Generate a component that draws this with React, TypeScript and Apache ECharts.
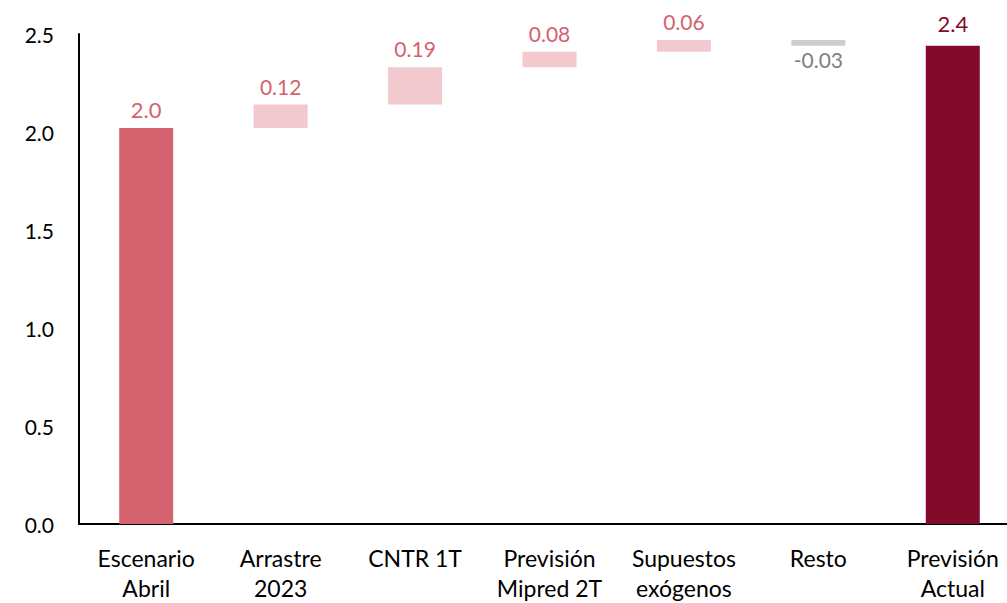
import React, { useEffect, useRef } from "react";
import * as echarts from "echarts";

const categories = [
  "Escenario\nAbril",
  "Arrastre\n2023",
  "CNTR 1T",
  "Previsión\nMipred 2T",
  "Supuestos\nexógenos",
  "Resto",
  "Previsión\nActual",
];
const startValue = 2.02;
const deltas = [0.12, 0.19, 0.08, 0.06, -0.03];
const endValue = 2.44;
const yTicks = { min: 0, max: 2.5, interval: 0.5 };

const COL_START = "#D4626F";
const COL_POS = "#F2C9CF";
const COL_NEG = "#CDCDCD";
const COL_END = "#820A2B";
const LBL_POS = "#D4626F";
const LBL_NEG = "#7F7F7F";
const FONT = "Lato, 'Open Sans', sans-serif";

export default function App() {
  const ref = useRef<HTMLDivElement>(null);
  useEffect(() => {
    document.body.style.margin = "0";
    if (!ref.current) return;
    const chart = echarts.init(ref.current, null, { renderer: "svg" });

    const base: number[] = [0];
    const vis: any[] = [];
    vis.push({
      value: startValue,
      itemStyle: { color: COL_START },
      label: { show: true, position: "top", color: COL_START, fontSize: 22, formatter: () => startValue.toFixed(1) },
    });
    let cum = startValue;
    deltas.forEach((d) => {
      if (d >= 0) {
        base.push(cum);
        vis.push({
          value: d,
          itemStyle: { color: COL_POS },
          label: { show: true, position: "top", color: LBL_POS, formatter: () => d.toFixed(2) },
        });
        cum += d;
      } else {
        cum += d;
        base.push(cum);
        vis.push({
          value: -d,
          itemStyle: { color: COL_NEG },
          label: { show: true, position: "bottom", color: LBL_NEG, distance: 3, formatter: () => d.toFixed(2) },
        });
      }
    });
    base.push(0);
    vis.push({
      value: endValue,
      itemStyle: { color: COL_END },
      label: { show: true, position: "top", color: COL_END, fontSize: 22, distance: 11, formatter: () => endValue.toFixed(1) },
    });

    chart.setOption({
      animation: false,
      textStyle: { fontFamily: FONT },
      grid: { left: 79, right: 0, top: 34, bottom: 76, containLabel: false },
      xAxis: {
        type: "category",
        data: categories,
        axisLine: { show: true, lineStyle: { color: "#000", width: 2 } },
        axisTick: { show: false },
        axisLabel: {
          color: "#000",
          fontSize: 23,
          fontFamily: FONT,
          lineHeight: 30,
          margin: 19,
          interval: 0,
        },
      },
      yAxis: {
        type: "value",
        min: yTicks.min,
        max: yTicks.max,
        interval: yTicks.interval,
        axisLine: { show: true, lineStyle: { color: "#000", width: 2 } },
        axisTick: { show: false },
        splitLine: { show: false },
        axisLabel: {
          color: "#000",
          fontSize: 21,
          fontFamily: FONT,
          margin: 25,
          formatter: (v: number) => v.toFixed(1),
        },
      },
      series: [
        {
          type: "bar",
          stack: "w",
          data: base,
          itemStyle: { color: "transparent" },
          silent: true,
          barWidth: 54,
        },
        {
          type: "bar",
          stack: "w",
          data: vis,
          barWidth: 54,
          label: { fontSize: 21, fontFamily: FONT, distance: 8 },
        },
      ],
    });
    return () => chart.dispose();
  }, []);
  return (
    <div style={{ width: 1007, height: 603, overflow: "hidden", position: "relative" }}>
      <div ref={ref} style={{ width: 1020, height: 603 }} />
    </div>
  );
}
